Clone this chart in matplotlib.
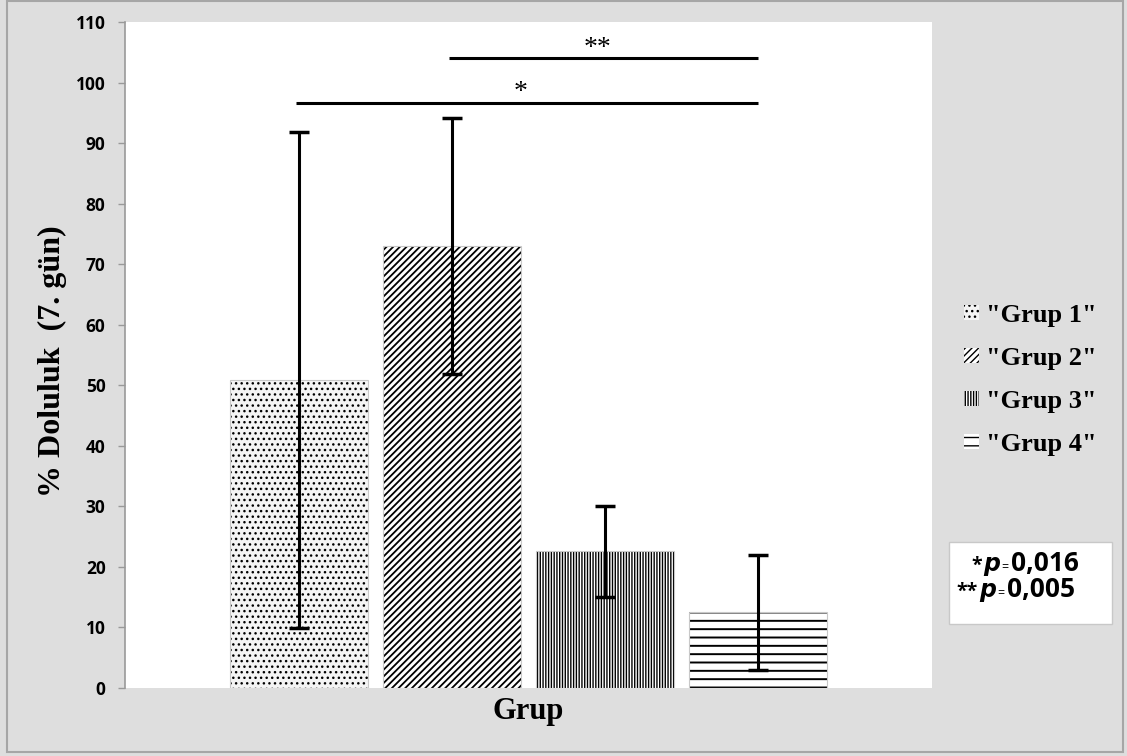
import matplotlib
matplotlib.use("Agg")
import matplotlib.pyplot as plt
import matplotlib.patches as mpatches
import numpy as np

# data
groups = ['"Grup 1"', '"Grup 2"', '"Grup 3"', '"Grup 4"']
means = [50.9, 73.0, 22.6, 12.5]
errs = [41.0, 21.2, 7.5, 9.5]
hatches = ["...", "/////", "||||||", "--"]
hatch_lw = [1.0, 1.3, 1.0, 1.4]
face = ["#f4f4f4", "white", "white", "white"]
yticks = np.arange(0, 111, 10)
# significance brackets: (from group, to group, height, label)
sig = [(0, 3, 96.6, "*"), (1, 3, 104.0, "**")]
p_lines = [("*", "0,016"), ("**", "0,005")]

SANS = ["Open Sans", "DejaVu Sans"]
SERIF = "Liberation Serif"

W, H = 1127, 756
fig = plt.figure(figsize=(W / 100, H / 100), dpi=100, facecolor="#dedede")
ax = fig.add_axes([125 / W, 1 - 688 / H, (932 - 125) / W, (688 - 22) / H])
ax.set_facecolor("white")

x = np.arange(len(groups))
width = 0.90
bars = []
for i in range(len(groups)):
    with plt.rc_context({"hatch.linewidth": hatch_lw[i]}):
        b = ax.bar(x[i], means[i], width, color=face[i], edgecolor="black",
                   linewidth=0, hatch=hatches[i], label=groups[i], zorder=2)
    bars.append(b)
ax.bar(x, means, width, fill=False, edgecolor="#c8c8c8", linewidth=0.8, zorder=3)

ax.errorbar(x, means, yerr=errs, fmt="none", ecolor="black", elinewidth=2.2,
            capsize=7, capthick=2.5, zorder=4)

for a, b, h, lab in sig:
    ax.plot([x[a] - 0.02, x[b]], [h, h], color="black", lw=2.2,
            solid_capstyle="butt", zorder=4)
    xm = x[1] + 0.45 if lab == "*" else x[2] - 0.05
    ax.text(xm, h + 0.6, lab, ha="center", va="baseline", fontsize=20,
            family=SERIF)

ax.set_xlim(-1.137, 4.137)
ax.set_ylim(0, 110)
ax.set_yticks(yticks)
ax.set_yticklabels([str(t) for t in yticks], fontsize=12.5, fontweight="bold",
                   family=SANS)
ax.set_xticks([])
ax.tick_params(axis="y", direction="out", length=5, width=1, color="#999999",
               pad=9)
for s in ("top", "right", "bottom"):
    ax.spines[s].set_visible(False)
ax.spines["left"].set_color("#999999")
ax.spines["left"].set_linewidth(1.2)

fig.text(52 / W, 1 - 361 / H, "% Doluluk  (7. gün)", rotation=90,
         ha="center", va="center", fontsize=23, fontweight="bold",
         family=SERIF)
fig.text(528 / W, 1 - 712 / H, "Grup", ha="center", va="center",
         fontsize=22, fontweight="bold", family=SERIF)

leg = fig.legend(handles=[b[0] for b in bars], labels=groups,
                 loc="upper left", bbox_to_anchor=(964 / W, 1 - 304 / H),
                 frameon=False, borderpad=0, borderaxespad=0,
                 handlelength=0.55, handleheight=0.5, handletextpad=0.3,
                 labelspacing=0.76,
                 prop={"family": SERIF, "weight": "bold", "size": 19})

# p value box
fig.patches.append(mpatches.Rectangle((949 / W, 1 - 624 / H), 163 / W, 82 / H,
                                      transform=fig.transFigure,
                                      facecolor="white", edgecolor="#c8c8c8",
                                      lw=1.0))
for k, (st, val) in enumerate(p_lines):
    yy = 1 - (571 + 26 * k) / H
    xs = 1000 - 4 * k
    fig.text(xs / W, yy, "p", ha="right", va="baseline", fontsize=17,
             fontweight="bold", fontstyle="italic", family="DejaVu Sans")
    fig.text((xs - 18) / W, yy, st, ha="right", va="baseline", fontsize=14,
             fontweight="bold", family=SANS)
    fig.text((xs + 5) / W, yy, "=", ha="center", va="baseline", fontsize=9,
             family=SANS)
    fig.text((xs + 11) / W, yy, val, ha="left", va="baseline", fontsize=19,
             fontweight="bold", family=SANS)

# outer frame
fig.patches.append(mpatches.Rectangle((7 / W, 1 - 752 / H), 1116 / W, 751 / H,
                                      transform=fig.transFigure, fill=False,
                                      edgecolor="#a6a6a6", lw=1.5))

fig.savefig("out.png", dpi=100, facecolor=fig.get_facecolor())
